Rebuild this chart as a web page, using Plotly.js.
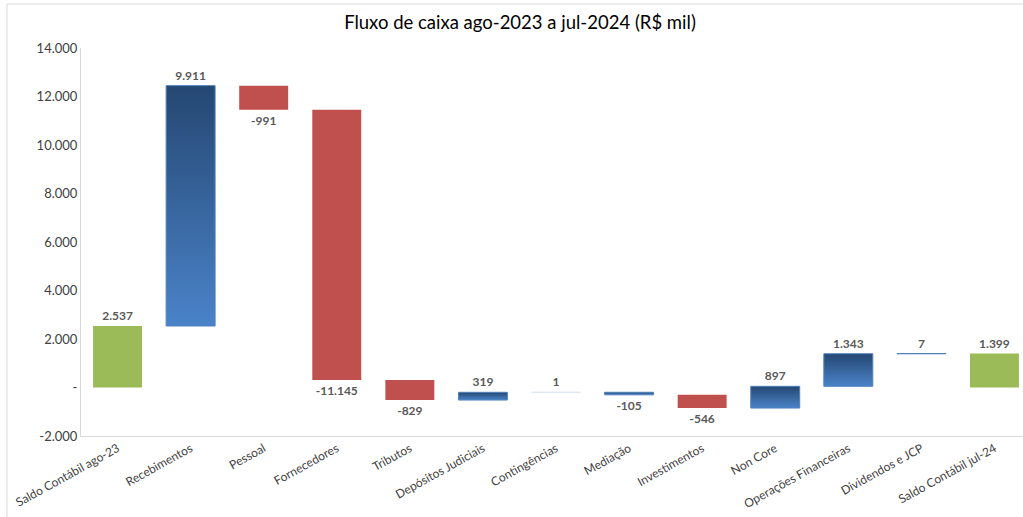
<!DOCTYPE html>
<html>
<head>
<meta charset="utf-8">
<script src="https://cdn.plot.ly/plotly-3.0.1.min.js"></script>
<style>html,body{margin:0;padding:0;background:#fff;overflow:hidden}#chart{width:1035px;height:517px}</style>
</head>
<body>
<div id="chart"></div>
<script>
const categories = ["Saldo Contábil ago-23","Recebimentos","Pessoal","Fornecedores","Tributos","Depósitos Judiciais","Contingências","Mediação","Investimentos","Non Core","Operações Financeiras","Dividendos e JCP","Saldo Contábil jul-24"];
const values = [2537, 9911, -991, -11145, -829, 319, 1, -105, -546, 897, 1343, 7, 1399];
const kinds = ["total","blue","red","red","red","blue","light","blue","red","blue","blue","blue","total"];
const tickValues = [-2000, 0, 2000, 4000, 6000, 8000, 10000, 12000, 14000];
const tickLabels = ["-2.000","-","2.000","4.000","6.000","8.000","10.000","12.000","14.000"];

const colorMap = {total:"#9bbb59", red:"#c0504d", blue:"#3a6aa6", light:"#dce6f2"};
const lineMap = {total:"rgba(0,0,0,0)", red:"rgba(0,0,0,0)", blue:"#4f81bd", light:"#dce6f2"};

// compute bases
let running = 0;
const bases = [], heights = [];
values.forEach((v,i)=>{
  if(kinds[i]==="total"){ bases.push(0); heights.push(v); running = v; }
  else { bases.push(running); heights.push(v); running += v; }
});

const trace = {
  type:"bar",
  x:categories,
  y:heights,
  base:bases,
  width:0.67,
  marker:{color:kinds.map(k=>colorMap[k]), line:{color:kinds.map(k=>lineMap[k]), width:1}},
  texttemplate:"%{y:,.0f}",
  textposition:"outside",
  constraintext:"none",
  cliponaxis:false,
  textfont:{family:"Lato, 'Open Sans', sans-serif", size:12, color:"#595959", weight:"bold"},
  hoverinfo:"none"
};

const layout = {
  width:1035, height:517,
  separators:",.",
  margin:{l:81, r:4, t:48, b:81},
  paper_bgcolor:"#fff", plot_bgcolor:"#fff",
  showlegend:false,
  title:{text:"Fluxo de caixa ago-2023 a jul-2024 (R$ mil)", font:{family:"Lato, 'Open Sans', sans-serif", size:18.5, color:"#000"}, x:520/1035, xanchor:"center", y:0.957, yanchor:"middle", yref:"container"},
  xaxis:{type:"category", tickangle:-29, tickfont:{family:"Lato, 'Open Sans', sans-serif", size:12, color:"#404040"}, showline:true, linecolor:"#d9d9d9", linewidth:1, ticks:"", showgrid:false, zeroline:false, fixedrange:true},
  yaxis:{range:[-2000,14000], tickvals:tickValues, ticktext:tickLabels, tickfont:{family:"Lato, 'Open Sans', sans-serif", size:13, color:"#404040"}, showline:true, linecolor:"#d9d9d9", linewidth:1, showgrid:false, zeroline:false, ticks:"", ticklen:6, fixedrange:true},
  shapes:[{type:"rect", xref:"paper", yref:"paper", x0:-0.0779, x1:1.01, y0:-0.3, y1:1.1134, line:{color:"#d9d9d9", width:1}, layer:"below"}]
};

Plotly.newPlot("chart",[trace],layout,{displayModeBar:false, staticPlot:true}).then(gd=>{
  const svg = gd.querySelector("svg.main-svg");
  const ns = "http://www.w3.org/2000/svg";
  let defs = svg.querySelector("defs");
  if(!defs){ defs = document.createElementNS(ns,"defs"); svg.insertBefore(defs, svg.firstChild); }
  const grad = document.createElementNS(ns,"linearGradient");
  grad.setAttribute("id","blueGrad");
  grad.setAttribute("x1","0"); grad.setAttribute("y1","0");
  grad.setAttribute("x2","0"); grad.setAttribute("y2","1");
  [["0%","#254772"],["100%","#4a83c9"]].forEach(([o,c])=>{
    const s = document.createElementNS(ns,"stop");
    s.setAttribute("offset",o); s.setAttribute("stop-color",c);
    grad.appendChild(s);
  });
  defs.appendChild(grad);
  const pts = gd.querySelectorAll(".bars .point");
  pts.forEach((p,i)=>{
    if(kinds[i]==="blue"){
      const path = p.querySelector("path");
      if(path) path.style.fill = "url(#blueGrad)";
    }
  });
});
</script>
</body>
</html>
